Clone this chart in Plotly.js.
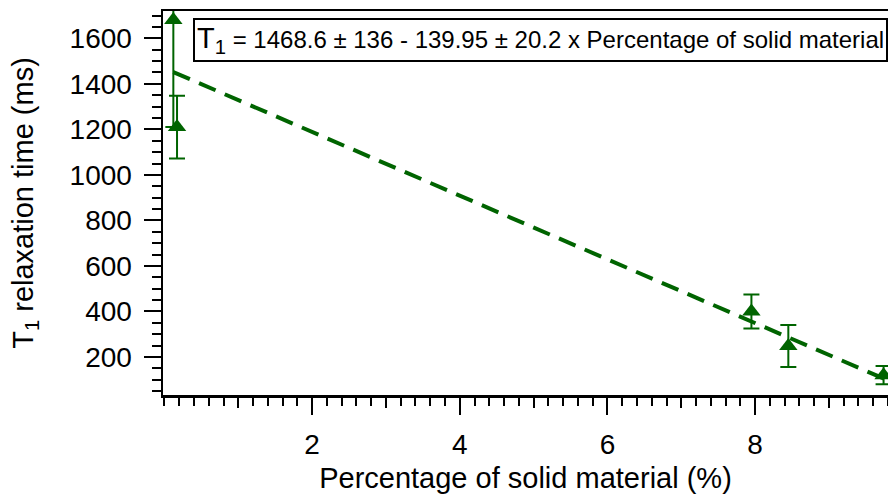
<!DOCTYPE html>
<html>
<head>
<meta charset="utf-8">
<script src="https://cdn.plot.ly/plotly-3.0.1.min.js"></script>
<style>html,body{margin:0;padding:0;overflow:hidden;background:#fff;}</style>
</head>
<body>
<div id="chart" style="width:888px;height:494px;"></div>
<script>
// Data
const solidPct   = [0.12, 0.17, 7.95, 8.45, 9.74];
const t1Values   = [1680, 1210, 400, 248, 120];
const t1Errors   = [470, 138, 75, 92, 40];
// Linear fit T1 = a + b * x
const fitIntercept = 1468.6;
const fitSlope     = -139.95;
const fitRangeX    = [0.12, 9.9];
const xTickVals    = [2, 4, 6, 8];
const yTickVals    = [200, 400, 600, 800, 1000, 1200, 1400, 1600];
const xMidTickVals = [1, 3, 5, 7, 9];

const green = 'rgb(0,100,0)';
const fitY = fitRangeX.map(x => fitIntercept + fitSlope * x);

const traces = [
  {
    x: fitRangeX, y: fitY, mode: 'lines', type: 'scatter',
    line: {color: green, width: 4, dash: '18px,10px'},
    hoverinfo: 'skip', showlegend: false
  },
  {
    x: solidPct, y: t1Values, mode: 'markers', type: 'scatter',
    marker: {symbol: 'triangle-up', size: 16, color: green},
    error_y: {type: 'data', array: t1Errors, visible: true, color: green, thickness: 2, width: 8},
    showlegend: false
  },
  {
    x: [xMidTickVals[0]], y: [-1000], xaxis: 'x2', yaxis: 'y', mode: 'markers', type: 'scatter',
    marker: {opacity: 0}, showlegend: false, hoverinfo: 'skip'
  }
];

const fontFam = 'Arial, "Liberation Sans", sans-serif';
const layout = {
  width: 888, height: 494,
  margin: {l: 163, r: 0, t: 11, b: 99, pad: 0},
  paper_bgcolor: '#fff', plot_bgcolor: '#fff',
  font: {family: fontFam, color: '#000', size: 28},
  showlegend: false,
  xaxis: {
    range: [-0.02, 9.8], showgrid: false, zeroline: false,
    showline: true, linecolor: '#000', linewidth: 2.5, mirror: true,
    ticks: 'outside', ticklen: 17, tickwidth: 2, tickcolor: '#000',
    tickvals: xTickVals, ticktext: xTickVals.map(String),
    tickfont: {size: 28, family: fontFam},
    ticklabelstandoff: 6,
    minor: {dtick: 0.2, tick0: 0, ticks: 'outside', ticklen: 8, tickwidth: 2, tickcolor: '#000'},
    title: {text: 'Percentage of solid material (%)', font: {size: 29, family: fontFam}, standoff: 14},
    automargin: false
  },
  xaxis2: {
    overlaying: 'x', anchor: 'y', side: 'bottom', range: [-0.02, 9.8],
    showgrid: false, zeroline: false, showline: false,
    ticks: 'outside', ticklen: 12, tickwidth: 2, tickcolor: '#000',
    tickvals: xMidTickVals, showticklabels: false, automargin: false
  },
  yaxis: {
    range: [33, 1720], showgrid: false, zeroline: false,
    showline: true, linecolor: '#000', linewidth: 2.5, mirror: false,
    ticks: 'outside', ticklen: 17, tickwidth: 2, tickcolor: '#000',
    tickvals: yTickVals, ticktext: yTickVals.map(String),
    tickfont: {size: 28, family: fontFam},
    ticklabelstandoff: 6,
    minor: {dtick: 50, tick0: 0, ticks: 'outside', ticklen: 9, tickwidth: 2, tickcolor: '#000'},
    title: {text: 'T<sub>1</sub> relaxation time (ms)', font: {size: 29, family: fontFam}, standoff: 28},
    automargin: false
  },
  annotations: [{
    xref: 'paper', yref: 'paper', x: 0.042, y: 0.982, xanchor: 'left', yanchor: 'top',
    text: '<span style="font-size:29px">T<sub>1</sub></span> = 1468.6 ± 136 - 139.95 ± 20.2 x Percentage of solid material',
    showarrow: false, align: 'left',
    font: {size: 24, family: fontFam, color: '#000'},
    bordercolor: '#000', borderwidth: 2, borderpad: 2, bgcolor: '#fff'
  }]
};

Plotly.newPlot('chart', traces, layout, {displayModeBar: false, staticPlot: true});
</script>
</body>
</html>
